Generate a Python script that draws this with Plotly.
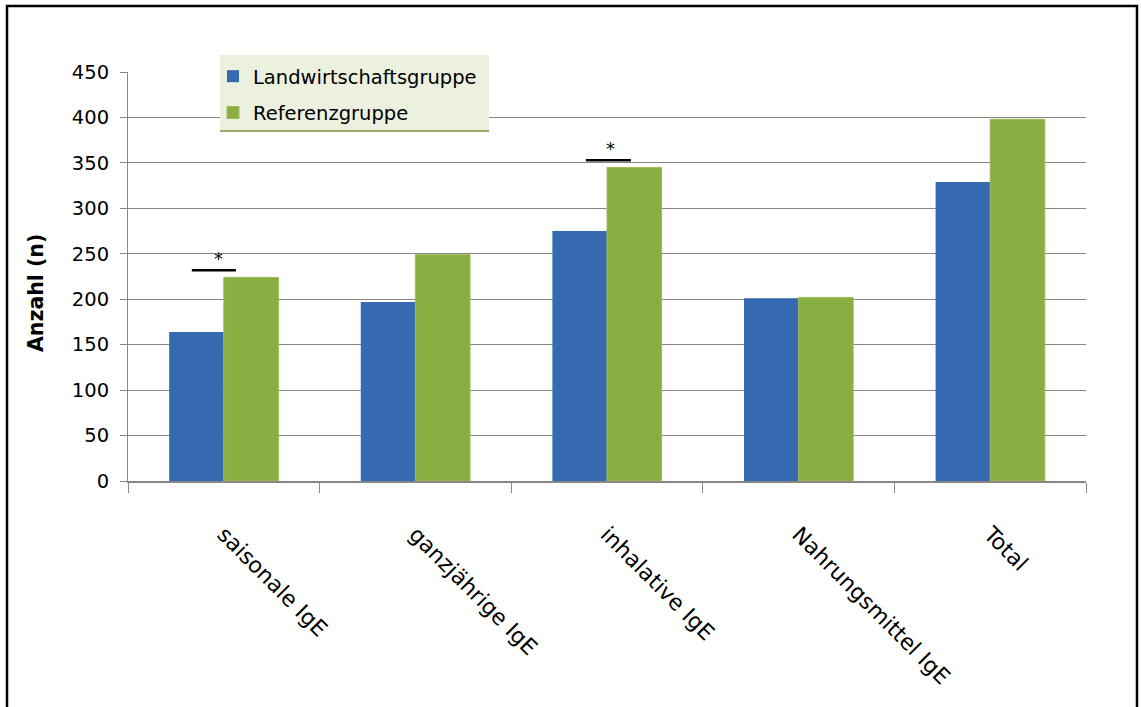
import plotly.graph_objects as go

categories = ["saisonale IgE", "ganzjährige IgE", "inhalative IgE", "Nahrungsmittel IgE", "Total"]
landwirtschaft = [164, 197, 275, 201, 329]
referenz = [224, 249, 345, 202, 398]
series_names = ["Landwirtschaftsgruppe", "Referenzgruppe"]
y_ticks = [0, 50, 100, 150, 200, 250, 300, 350, 400, 450]
y_title = "Anzahl (n)"

# significance markers: category index, line level
sig_idx = [0, 2]
sig_level = [232, 353]
# styling offsets (category units) for line ends and asterisk
sig_style = [(-0.167, 0.063, -0.03), (-0.11, 0.125, 0.016)]

FONT = "DejaVu Sans"

fig = go.Figure()
fig.add_trace(go.Bar(
    x=categories, y=landwirtschaft, name=series_names[0],
    marker=dict(color="#3569B0", line=dict(width=0)),
    legendgroup="a",
))
fig.add_trace(go.Bar(
    x=categories, y=referenz, name=series_names[1],
    marker=dict(color="#89AE41", line=dict(color="#9BBB59", width=1)),
    legendgroup="b",
))

shapes = []
annotations = []
for i, lvl, (o0, o1, oa) in zip(sig_idx, sig_level, sig_style):
    shapes.append(dict(type="line", xref="x", yref="y", x0=i + o0, x1=i + o1,
                       y0=lvl, y1=lvl, line=dict(color="black", width=2.5)))
    annotations.append(dict(text="*", xref="x", yref="y", x=i + oa, y=lvl + 13,
                            showarrow=False, yanchor="middle",
                            font=dict(family=FONT, size=18, color="black")))

annotations.append(dict(text="<b>" + y_title + "</b>", xref="paper", yref="paper",
                        x=(36 - 128) / 958, y=(481 - 293) / 409, textangle=-90,
                        showarrow=False, xanchor="center", yanchor="middle",
                        font=dict(family=FONT, size=20.5, color="black")))

# legend box background
shapes.append(dict(type="rect", xref="paper", yref="paper",
                   x0=(220 - 128) / 958, x1=(489 - 128) / 958,
                   y0=(481 - 131) / 409, y1=(481 - 55) / 409,
                   fillcolor="#EBF1DE", line=dict(width=0), layer="above"))
shapes.append(dict(type="line", xref="paper", yref="paper",
                   x0=(220 - 128) / 958, x1=(489 - 128) / 958,
                   y0=(481 - 131) / 409, y1=(481 - 131) / 409,
                   line=dict(color="#77933C", width=1.5), layer="above"))
# outer frame
shapes.append(dict(type="rect", xref="paper", yref="paper",
                   x0=(7 - 128) / 958, x1=(1137 - 128) / 958,
                   y0=(481 - 720) / 409, y1=(481 - 6) / 409,
                   line=dict(color="black", width=2.5), fillcolor="rgba(0,0,0,0)"))

fig.update_layout(
    width=1141, height=707,
    margin=dict(l=128, r=55, t=72, b=226),
    paper_bgcolor="white", plot_bgcolor="white",
    barmode="group", bargap=0.43, bargroupgap=0,
    font=dict(family=FONT, color="black"),
    shapes=shapes, annotations=annotations,
    legend=dict(x=(213 - 128) / 958, y=(481 - 57) / 409, xanchor="left", yanchor="top",
                bgcolor="rgba(0,0,0,0)", font=dict(family=FONT, size=19.5, color="black"),
                tracegroupgap=8, itemwidth=30),
    showlegend=True,
    xaxis=dict(showgrid=False, showline=True, linecolor="#868686", linewidth=1.5,
               ticks="outside", tickson="boundaries", ticklen=10, tickcolor="#868686",
               tickangle=45, tickfont=dict(family=FONT, size=22, color="black"),
               ticklabelstandoff=30),
    yaxis=dict(range=[0, 450], tickvals=y_ticks, showgrid=True, gridcolor="#868686",
               gridwidth=1, showline=True, linecolor="#868686", linewidth=1,
               ticks="outside", ticklen=7, tickcolor="#868686", ticklabelstandoff=7,
               tickfont=dict(family=FONT, size=19.5, color="black"), zeroline=False),
)

fig.write_html("out.html")
